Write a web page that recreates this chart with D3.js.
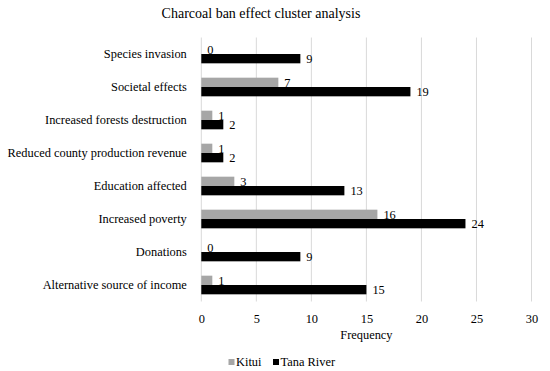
<!DOCTYPE html>
<html>
<head>
<meta charset="utf-8">
<script src="https://cdn.jsdelivr.net/npm/d3@7"></script>
<style>
  body { margin: 0; background: #fff; }
  svg text { font-family: "Liberation Serif", "DejaVu Serif", serif !important; fill: #000; }
</style>
</head>
<body>
<svg id="chart"></svg>
<script>
// --- Data ---
const categories = [
    "Species invasion",
    "Societal effects",
    "Increased forests destruction",
    "Reduced county production revenue",
    "Education affected",
    "Increased poverty",
    "Donations",
    "Alternative source of income"
];
const kitui = [0, 7, 1, 1, 3, 16, 0, 1];
const tanaRiver = [9, 19, 2, 2, 13, 24, 9, 15];
const seriesNames = ["Kitui", "Tana River"];
const seriesColors = ["#a6a6a6", "#000000"];
const xTicks = [0, 5, 10, 15, 20, 25, 30];

// --- Sizing ---
const width = 550, height = 371;
const margin = { top: 37.5, right: 18.5, bottom: 69.5, left: 201.3 };
const fontSize = 12.4;

const svg = d3.select("#chart")
    .attr("width", width)
    .attr("height", height);

const x = d3.scaleLinear()
    .domain([0, 30])
    .range([margin.left, width - margin.right]);

const y = d3.scaleBand()
    .domain(categories)
    .range([margin.top, height - margin.bottom])
    .paddingInner(0.435)
    .paddingOuter(0.2175);

const ySub = d3.scaleBand()
    .domain(seriesNames)
    .range([0, y.bandwidth()]);

// --- Title ---
svg.append("text")
    .attr("x", 261)
    .attr("y", 18)
    .attr("text-anchor", "middle")
    .style("font-size", "14px")
    .text("Charcoal ban effect cluster analysis");

// --- Gridlines ---
svg.append("g")
    .selectAll("line")
    .data(xTicks)
    .join("line")
    .attr("x1", d => x(d))
    .attr("x2", d => x(d))
    .attr("y1", margin.top)
    .attr("y2", height - margin.bottom)
    .attr("stroke", "#d9d9d9")
    .attr("stroke-width", 1);

// --- X axis ---
const xAxis = svg.append("g")
    .attr("transform", `translate(0,${height - margin.bottom})`)
    .call(d3.axisBottom(x).tickValues(xTicks).tickSize(0).tickPadding(13));
xAxis.select(".domain").remove();
xAxis.selectAll("text")
    .style("font-size", fontSize + "px");

svg.append("text")
    .attr("x", x(15))
    .attr("y", 339)
    .attr("text-anchor", "middle")
    .style("font-size", fontSize + "px")
    .text("Frequency");

// --- Y axis labels ---
const yAxis = svg.append("g")
    .attr("transform", `translate(${margin.left},0)`)
    .call(d3.axisLeft(y).tickSize(0).tickPadding(14.5));
yAxis.select(".domain").remove();
yAxis.selectAll("text")
    .style("font-size", fontSize + "px");

// --- Bars ---
const rows = categories.map((c, i) => ({
    category: c,
    values: [
        { key: seriesNames[0], value: kitui[i] },
        { key: seriesNames[1], value: tanaRiver[i] }
    ]
}));

const groups = svg.append("g")
    .selectAll("g")
    .data(rows)
    .join("g")
    .attr("transform", d => `translate(0,${y(d.category)})`);

groups.selectAll("rect")
    .data(d => d.values)
    .join("rect")
    .attr("x", x(0))
    .attr("y", d => ySub(d.key))
    .attr("width", d => x(d.value) - x(0))
    .attr("height", ySub.bandwidth())
    .attr("fill", (d, i) => seriesColors[i]);

groups.selectAll("text")
    .data(d => d.values)
    .join("text")
    .attr("x", d => x(d.value) + 6)
    .attr("y", d => ySub(d.key) + ySub.bandwidth() / 2)
    .attr("dy", "0.35em")
    .style("font-size", fontSize + "px")
    .text(d => d.value);

// --- Legend ---
const legendX = [228.5, 273];
const legend = svg.append("g")
    .selectAll("g")
    .data(seriesNames)
    .join("g")
    .attr("transform", (d, i) => `translate(${legendX[i]},362)`);

legend.append("rect")
    .attr("x", 0)
    .attr("y", -3)
    .attr("width", 6)
    .attr("height", 6)
    .attr("fill", (d, i) => seriesColors[i]);

legend.append("text")
    .attr("x", 7.5)
    .attr("y", 0)
    .attr("dy", "0.35em")
    .style("font-size", fontSize + "px")
    .text(d => d);
</script>
</body>
</html>
